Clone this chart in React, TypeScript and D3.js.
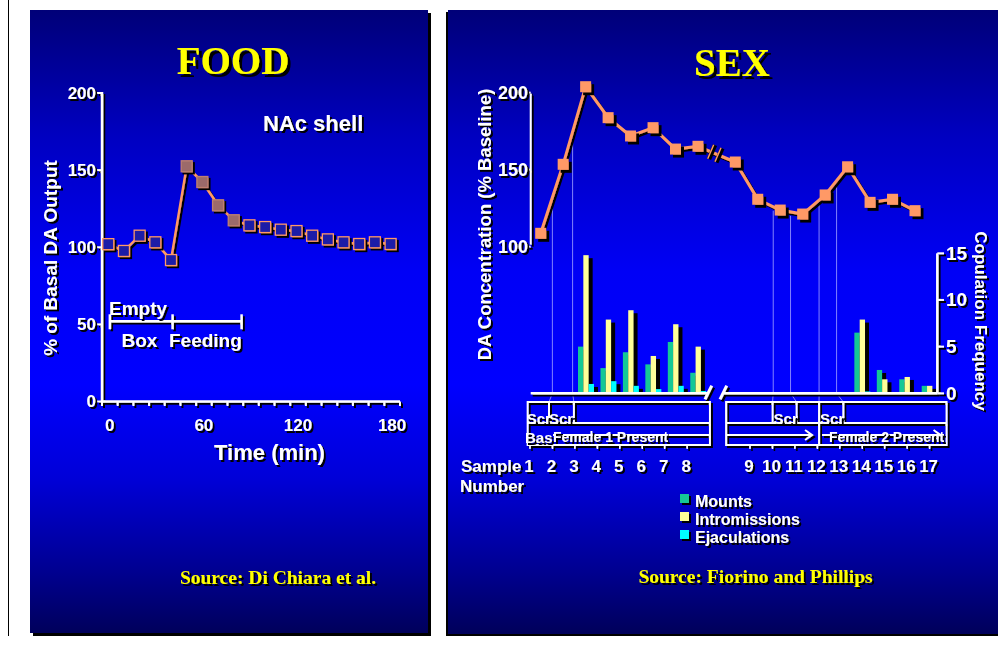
import React from 'react';
import * as d3 from 'd3';

// ---------- FOOD panel data ----------
const foodTimes = [0, 10, 20, 30, 40, 50, 60, 70, 80, 90, 100, 110, 120, 130, 140, 150, 160, 170, 180];
const foodValues = [102, 97.6, 107.5, 103.2, 91.7, 152.5, 142.3, 127.2, 117.5, 114.2, 113.1, 111.4, 110.5, 107.5, 105.1, 103.2, 102.1, 103.2, 102.1];
const foodPeakTimes = [50, 60, 70, 80];
const foodYTicks = [0, 50, 100, 150, 200];
const foodXLabels = [0, 60, 120, 180];
const foodMinorTicks = [-4, 6, 16, 26, 36, 46, 56, 66, 76, 86, 96, 106, 116, 126, 136, 146, 156, 166, 176, 186];
const foodBracketTimes = [1, 41, 85];
const foodBracketLevel = 52;

// ---------- SEX panel data ----------
const samples = [1, 2, 3, 4, 5, 6, 7, 8, 9, 10, 11, 12, 13, 14, 15, 16, 17];
const daValues = [108.7, 153.5, 203.9, 183.8, 171.9, 177.3, 163.4, 165.2, 155, 130.8, 123.8, 121.2, 133.6, 151.9, 128.8, 130.8, 123.4];
const mounts = [0, 0, 5.0, 2.7, 4.4, 3.1, 5.5, 2.2, 0, 0, 0, 0, 0, 6.5, 2.5, 1.5, 0.8];
const intromissions = [0, 0, 14.8, 7.9, 8.9, 4.0, 7.4, 5.0, 0, 0, 0, 0, 0, 7.9, 1.5, 1.75, 0.8];
const ejaculations = [0, 0, 1.0, 1.3, 0.8, 0.45, 0.8, 0.25, 0, 0, 0, 0, 0, 0.2, 0, 0, 0];
const seriesNames = ['Mounts', 'Intromissions', 'Ejaculations'];
const seriesColors = ['#14c896', '#ffff99', '#00ffff'];
const daTicks = [100, 150, 200];
const copTicks = [0, 5, 10, 15];
const eventsUpper = [1.52, 2.42, 10.69, 11.46, 12.73, 13.51];
const eventsLower = [1.89, 3.0, 10.05, 11.12, 12.12, 13.2];

const LINE_GAP = 0.66;
const BAR_GAP = 1.31;
const LAB_GAP = 1.8;

const SANS = "'Liberation Sans', Arial, sans-serif";
const SERIF = "'Liberation Serif', 'Times New Roman', serif";
const ORANGE = '#ff9966';

const lineSlot = (s: number) => s - 1 + (s >= 9 ? LINE_GAP : 0);
const barSlot = (s: number) => s - 1 + (s >= 9 ? BAR_GAP : 0);
const labSlot = (s: number) => s - 1 + (s >= 9 ? LAB_GAP : 0);

function Txt(props: any) {
  const { children, transform, ...rest } = props;
  return (
    <g filter="url(#sh)">
      <text fill="#fff" fontFamily={SANS} fontWeight="bold" dominantBaseline="central" transform={transform} {...rest}>
        {children}
      </text>
    </g>
  );
}

export default function App() {
  const W = 1003, H = 646;

  // FOOD scales
  const xF = d3.scaleLinear().domain([-4, 186]).range([102, 400]);
  const yF = d3.scaleLinear().domain([0, 200]).range([401.5, 93]);
  const foodLine = d3.line<number>().x((_, i) => xF(foodTimes[i])).y(d => yF(d));

  // SEX scales
  const xLine = d3.scaleLinear().domain([0, 16.66]).range([540.7, 915]);
  const xBar = d3.scaleLinear().domain([2, 17.31]).range([586, 929.7]);
  const xLab = d3.scaleLinear().domain([0, 17.8]).range([529, 928.6]);
  const yDA = d3.scaleLinear().domain([100, 200]).range([246.7, 92.7]);
  const yCop = d3.scaleLinear().domain([0, 15]).range([393.3, 253.3]);
  const sub = d3.scaleBand().domain(seriesNames).range([-8, 8]);
  const seriesData = [mounts, intromissions, ejaculations];

  const lx = samples.map(s => xLine(lineSlot(s)));
  const ly = daValues.map(v => yDA(v));
  const yOnLine = (x: number) => {
    for (let i = 0; i < lx.length - 1; i++) {
      if (x >= lx[i] && x <= lx[i + 1]) {
        const t = (x - lx[i]) / (lx[i + 1] - lx[i]);
        return ly[i] + t * (ly[i + 1] - ly[i]);
      }
    }
    return ly[0];
  };
  const sexLine = d3.line<number>().x((_, i) => lx[i]).y(d => yDA(d));

  const base = yCop(0);
  const boxTop = 402, boxMid = 423, boxArrow = 435, boxBot = 445;
  const groups: [number, number][] = [[-0.06, 8.06], [8.78, 18.6]];
  const lowX = eventsLower.map(s => xLab(labSlot(s)));

  const breakXs = [712, 719.3];

  return (
    <div style={{ position: 'absolute', left: 0, top: 0 }}>
      <svg width={W} height={H} viewBox={`0 0 ${W} ${H}`} style={{ display: 'block', background: '#fff' }}>
        <defs>
          <linearGradient id="bg" gradientUnits="userSpaceOnUse" x1="0" y1="10" x2="0" y2="634">
            <stop offset="0" stopColor="#000078" />
            <stop offset="0.2" stopColor="#0000c0" />
            <stop offset="0.42" stopColor="#0000f6" />
            <stop offset="0.6" stopColor="#0000ff" />
            <stop offset="0.75" stopColor="#0000d8" />
            <stop offset="0.9" stopColor="#000090" />
            <stop offset="1" stopColor="#00005a" />
          </linearGradient>
          <filter id="sh" filterUnits="userSpaceOnUse" x="0" y="0" width={W} height={H}>
            <feOffset in="SourceAlpha" dx="2" dy="2" result="o" />
            <feMerge>
              <feMergeNode in="o" />
              <feMergeNode in="SourceGraphic" />
            </feMerge>
          </filter>
          <filter id="sh3" filterUnits="userSpaceOnUse" x="0" y="0" width={W} height={H}>
            <feOffset in="SourceAlpha" dx="3" dy="3" result="o" />
            <feMerge>
              <feMergeNode in="o" />
              <feMergeNode in="SourceGraphic" />
            </feMerge>
          </filter>
        </defs>

        <line x1={8.5} y1={0} x2={8.5} y2={636} stroke="#000" strokeWidth={1} />

        {/* ================= FOOD PANEL ================= */}
        <rect x={33} y={13} width={398} height={623} fill="#000" />
        <rect x={30} y={10} width={398} height={623} fill="url(#bg)" />

        <text x={233} y={60} textAnchor="middle" dominantBaseline="central" fontFamily={SERIF} fontWeight="bold" fontSize={39} fill="#ffff00" filter="url(#sh3)">FOOD</text>

        <g filter="url(#sh)" stroke="#fff" fill="none">
          <line x1={102} y1={92} x2={102} y2={yF(0)} strokeWidth={2.5} />
          <line x1={102} y1={yF(0)} x2={400} y2={yF(0)} strokeWidth={2.5} />
          {foodYTicks.map(v => (
            <line key={v} x1={97} x2={102} y1={yF(v)} y2={yF(v)} strokeWidth={2} />
          ))}
          {foodMinorTicks.map(t => (
            <line key={t} x1={xF(t)} x2={xF(t)} y1={yF(0)} y2={yF(0) + 4.5} strokeWidth={2} />
          ))}
        </g>
        {foodYTicks.map(v => (
          <Txt key={v} x={96} y={yF(v)} textAnchor="end" fontSize={17}>{v}</Txt>
        ))}
        {foodXLabels.map(t => (
          <Txt key={t} x={xF(t) + 1.5} y={425} textAnchor="middle" fontSize={17}>{t}</Txt>
        ))}
        <Txt x={269.5} y={452} textAnchor="middle" fontSize={22}>Time (min)</Txt>
        <Txt x={50} y={258} textAnchor="middle" fontSize={19} transform="rotate(-90 50 258)">% of Basal DA Output</Txt>
        <Txt x={263} y={123} fontSize={22}>NAc shell</Txt>

        <g filter="url(#sh)" stroke="#fff" strokeWidth={2.5}>
          <line x1={xF(foodBracketTimes[0])} x2={xF(foodBracketTimes[2])} y1={yF(foodBracketLevel)} y2={yF(foodBracketLevel)} />
          {foodBracketTimes.map(t => (
            <line key={t} x1={xF(t)} x2={xF(t)} y1={yF(foodBracketLevel) - 7} y2={yF(foodBracketLevel) + 8} />
          ))}
        </g>
        <Txt x={109} y={308} fontSize={19}>Empty</Txt>
        <Txt x={121.5} y={340} fontSize={19}>Box</Txt>
        <Txt x={169} y={340} fontSize={19}>Feeding</Txt>

        <path d={foodLine(foodValues) || ''} fill="none" stroke={ORANGE} strokeWidth={2.5} filter="url(#sh)" />
        <g filter="url(#sh)">
          {foodValues.map((v, i) => {
            const peak = foodPeakTimes.includes(foodTimes[i]);
            return (
              <rect key={i} x={xF(foodTimes[i]) - 5.5} y={yF(v) - 5.5} width={11} height={11}
                fill={peak ? '#9c6b6b' : '#1a1aa8'} stroke={peak ? '#c08070' : ORANGE} strokeWidth={1.3} />
            );
          })}
        </g>

        <text x={278} y={577} textAnchor="middle" dominantBaseline="central" fontFamily={SERIF} fontWeight="bold" fontSize={19.5} fill="#ffff00" filter="url(#sh)">Source: Di Chiara et al.</text>

        {/* ================= SEX PANEL ================= */}
        <rect x={446} y={12} width={552} height={624} fill="#000" />
        <rect x={448} y={10} width={550} height={624} fill="url(#bg)" />

        <text x={732} y={62} textAnchor="middle" dominantBaseline="central" fontFamily={SERIF} fontWeight="bold" fontSize={39} fill="#ffff00" filter="url(#sh3)">SEX</text>

        <g stroke="#9a9aff" strokeWidth={1} fill="none" opacity={0.85}>
          {eventsUpper.map((s, k) => {
            const xu = xLine(lineSlot(s));
            return <path key={k} d={`M${xu},${yOnLine(xu) + 4}L${xu},${base}L${lowX[k]},${boxTop}`} />;
          })}
        </g>

        <g fill="#000">
          {samples.map((s, i) => seriesNames.map((n, k) => {
            const v = seriesData[k][i];
            if (!v) return null;
            const x = xBar(barSlot(s)) + (sub(n) as number);
            return <rect key={`${i}-${k}`} x={x + 4} y={yCop(v) + 3} width={sub.bandwidth()} height={Math.max(0, base - yCop(v) - 3)} />;
          }))}
        </g>
        <g>
          {samples.map((s, i) => seriesNames.map((n, k) => {
            const v = seriesData[k][i];
            if (!v) return null;
            const x = xBar(barSlot(s)) + (sub(n) as number);
            return <rect key={`${i}-${k}`} x={x} y={yCop(v)} width={sub.bandwidth()} height={base - yCop(v)} fill={seriesColors[k]} />;
          }))}
        </g>

        <g filter="url(#sh)" stroke="#fff" fill="none">
          <line x1={530.7} x2={707} y1={base} y2={base} strokeWidth={2.5} />
          <line x1={724} x2={937.3} y1={base} y2={base} strokeWidth={2.5} />
          <line x1={705} y1={399.3} x2={711.7} y2={385.7} strokeWidth={3} />
          <line x1={720} y1={399.3} x2={726.7} y2={385.7} strokeWidth={3} />
          <line x1={530.7} x2={530.7} y1={yDA(200) + 1} y2={yDA(100) - 2} strokeWidth={2} />
          {daTicks.map(v => <line key={v} x1={527.5} x2={530.7} y1={yDA(v)} y2={yDA(v)} strokeWidth={2} />)}
          <line x1={937.3} x2={937.3} y1={yCop(15)} y2={base} strokeWidth={2.5} />
          {copTicks.map(v => <line key={v} x1={937.3} x2={944} y1={yCop(v)} y2={yCop(v)} strokeWidth={2} />)}
        </g>
        {daTicks.map(v => (
          <Txt key={v} x={528} y={yDA(v)} textAnchor="end" fontSize={18}>{v}</Txt>
        ))}
        {copTicks.map(v => (
          <Txt key={v} x={946} y={yCop(v)} fontSize={19}>{v}</Txt>
        ))}
        <Txt x={484} y={224.5} textAnchor="middle" fontSize={18.5} transform="rotate(-90 484 224.5)">DA Concentration (% Baseline)</Txt>
        <Txt x={980} y={321} textAnchor="middle" fontSize={17} transform="rotate(90 980 321)">Copulation Frequency</Txt>

        <path d={sexLine(daValues) || ''} fill="none" stroke={ORANGE} strokeWidth={3} filter="url(#sh)" />
        {breakXs.map((bx, k) => {
          const by = yOnLine(bx);
          return (
            <g key={k}>
              <line x1={bx - 3} y1={by + 7} x2={bx + 3} y2={by - 7} stroke="#000" strokeWidth={4.5} />
              <line x1={bx - 4.3} y1={by + 6.5} x2={bx + 1.7} y2={by - 7.5} stroke={ORANGE} strokeWidth={1.5} />
            </g>
          );
        })}
        <g filter="url(#sh3)">
          {daValues.map((v, i) => (
            <rect key={i} x={lx[i] - 5.5} y={yDA(v) - 5.5} width={11} height={11} fill={ORANGE} />
          ))}
        </g>

        <g filter="url(#sh)" stroke="#fff" strokeWidth={2} fill="none">
          {groups.map(([a, b], k) => (
            <g key={k}>
              <rect x={xLab(a)} y={boxTop} width={xLab(b) - xLab(a)} height={boxBot - boxTop} />
              <line x1={xLab(a)} x2={xLab(b)} y1={boxMid} y2={boxMid} />
            </g>
          ))}
          <line x1={lowX[0]} x2={lowX[0]} y1={boxTop} y2={boxMid} />
          <line x1={lowX[1]} x2={lowX[1]} y1={boxTop} y2={boxMid} />
          <line x1={lowX[2]} x2={lowX[2]} y1={boxTop} y2={boxMid} />
          <line x1={lowX[3]} x2={lowX[3]} y1={boxTop} y2={boxMid} />
          <line x1={lowX[4]} x2={lowX[4]} y1={boxTop} y2={boxBot} />
          <line x1={lowX[5]} x2={lowX[5]} y1={boxTop} y2={boxMid} />
          <line x1={553} x2={xLab(groups[0][1])} y1={boxArrow} y2={boxArrow} />
          <line x1={xLab(groups[1][0])} x2={lowX[4] - 7} y1={boxArrow} y2={boxArrow} />
          <path d={`M${lowX[4] - 14},${boxArrow - 5}L${lowX[4] - 7},${boxArrow}L${lowX[4] - 14},${boxArrow + 5}`} />
          <line x1={lowX[4] + 3} x2={xLab(groups[1][1]) - 6} y1={boxArrow} y2={boxArrow} />
          <path d={`M${xLab(groups[1][1]) - 13},${boxArrow - 5}L${xLab(groups[1][1]) - 6},${boxArrow}L${xLab(groups[1][1]) - 13},${boxArrow + 5}`} />
          {samples.map(s => (
            <line key={s} x1={xLab(labSlot(s)) + 1} x2={xLab(labSlot(s)) + 1} y1={boxBot} y2={boxBot + 4} strokeWidth={1.5} />
          ))}
        </g>
        <Txt x={xLab(groups[0][0]) - 1} y={418} fontSize={15}>Scr</Txt>
        <Txt x={lowX[0]} y={418} fontSize={15}>Scr</Txt>
        <Txt x={lowX[2] + 1} y={418} fontSize={15}>Scr</Txt>
        <Txt x={lowX[4] + 1} y={418} fontSize={15}>Scr</Txt>
        <Txt x={525} y={437} fontSize={15}>Bas</Txt>
        <Txt x={553} y={437} fontSize={14}>Female 1 Present</Txt>
        <Txt x={829} y={437} fontSize={14}>Female 2 Present</Txt>

        <Txt x={461} y={466} fontSize={17}>Sample</Txt>
        <Txt x={460} y={486} fontSize={17}>Number</Txt>
        {samples.map(s => (
          <Txt key={s} x={xLab(labSlot(s))} y={466} textAnchor="middle" fontSize={17}>{s}</Txt>
        ))}

        {seriesNames.map((n, k) => (
          <g key={n}>
            <rect x={680} y={494 + k * 18} width={9} height={9} fill={seriesColors[k]} filter="url(#sh)" />
            <Txt x={695} y={501 + k * 18} fontSize={16}>{n}</Txt>
          </g>
        ))}

        <text x={755.5} y={576} textAnchor="middle" dominantBaseline="central" fontFamily={SERIF} fontWeight="bold" fontSize={19.5} fill="#ffff00" filter="url(#sh)">Source: Fiorino and Phillips</text>
      </svg>
    </div>
  );
}
